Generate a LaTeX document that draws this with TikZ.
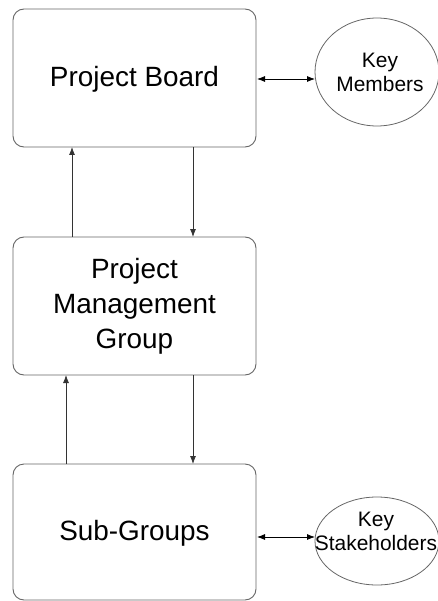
\documentclass[tikz,border=0pt]{standalone}
\usepackage{fontspec}
\setmainfont{Liberation Sans}
\usetikzlibrary{arrows.meta}
\begin{document}
\begin{tikzpicture}[x=1bp,y=-1bp,
  groupbox/.style={draw=black!60, line width=0.9bp, rounded corners=11bp},
  keyoval/.style={draw=black!60, line width=0.8bp},
  flow/.style={draw=black!80, line width=0.8bp, -{Latex[length=8bp,width=6bp]}},
  twoway/.style={draw=black, line width=0.8bp, {Latex[length=8bp,width=6bp]}-{Latex[length=8bp,width=6bp]}},
  bigtext/.style={font=\fontsize{28}{35}\selectfont, align=center},
  smalltext/.style={font=\fontsize{21}{24}\selectfont, align=center}]
\useasboundingbox (0,0) rectangle (438,601);
\begin{scope}
\clip (0,0) rectangle (438,601);
% main group boxes
\draw[groupbox] (13,9) rectangle (256,147);
\draw[groupbox] (13,237) rectangle (256,375);
\draw[groupbox] (13,464) rectangle (256,600);
\node[bigtext] (board) at (134.5,79) {Project Board};
\node[bigtext] (pmg) at (134.5,306) {Project\\Management\\Group};
\node[bigtext] (sub) at (134.5,533) {Sub-Groups};
% key ovals
\draw[keyoval] (377,72) ellipse [x radius=62, y radius=54];
\draw[keyoval] (377,541) ellipse [x radius=62, y radius=44];
\node[smalltext] (members) at (380,72) {Key\\Members};
\node[smalltext] (stake) at (376,531) {Key\\Stakeholders};
\end{scope}
% anchor points on box edges
\coordinate (b1bot1) at (72,147);
\coordinate (b1bot2) at (193,147);
\coordinate (b2top1) at (72,237);
\coordinate (b2top2) at (193,237);
\coordinate (b2bot1) at (66,375);
\coordinate (b2bot2) at (193,375);
\coordinate (b3top1) at (66,464);
\coordinate (b3top2) at (193,464);
\coordinate (b1right) at (257,79);
\coordinate (o1left) at (315,79);
\coordinate (b3right) at (257,537);
\coordinate (o2left) at (315,537);
% connectors
\draw[flow] (b2top1) -- (b1bot1);
\draw[flow] (b1bot2) -- (b2top2);
\draw[flow] (b3top1) -- (b2bot1);
\draw[flow] (b2bot2) -- (b3top2);
\draw[twoway] (b1right) -- (o1left);
\draw[twoway] (b3right) -- (o2left);
\end{tikzpicture}
\end{document}
